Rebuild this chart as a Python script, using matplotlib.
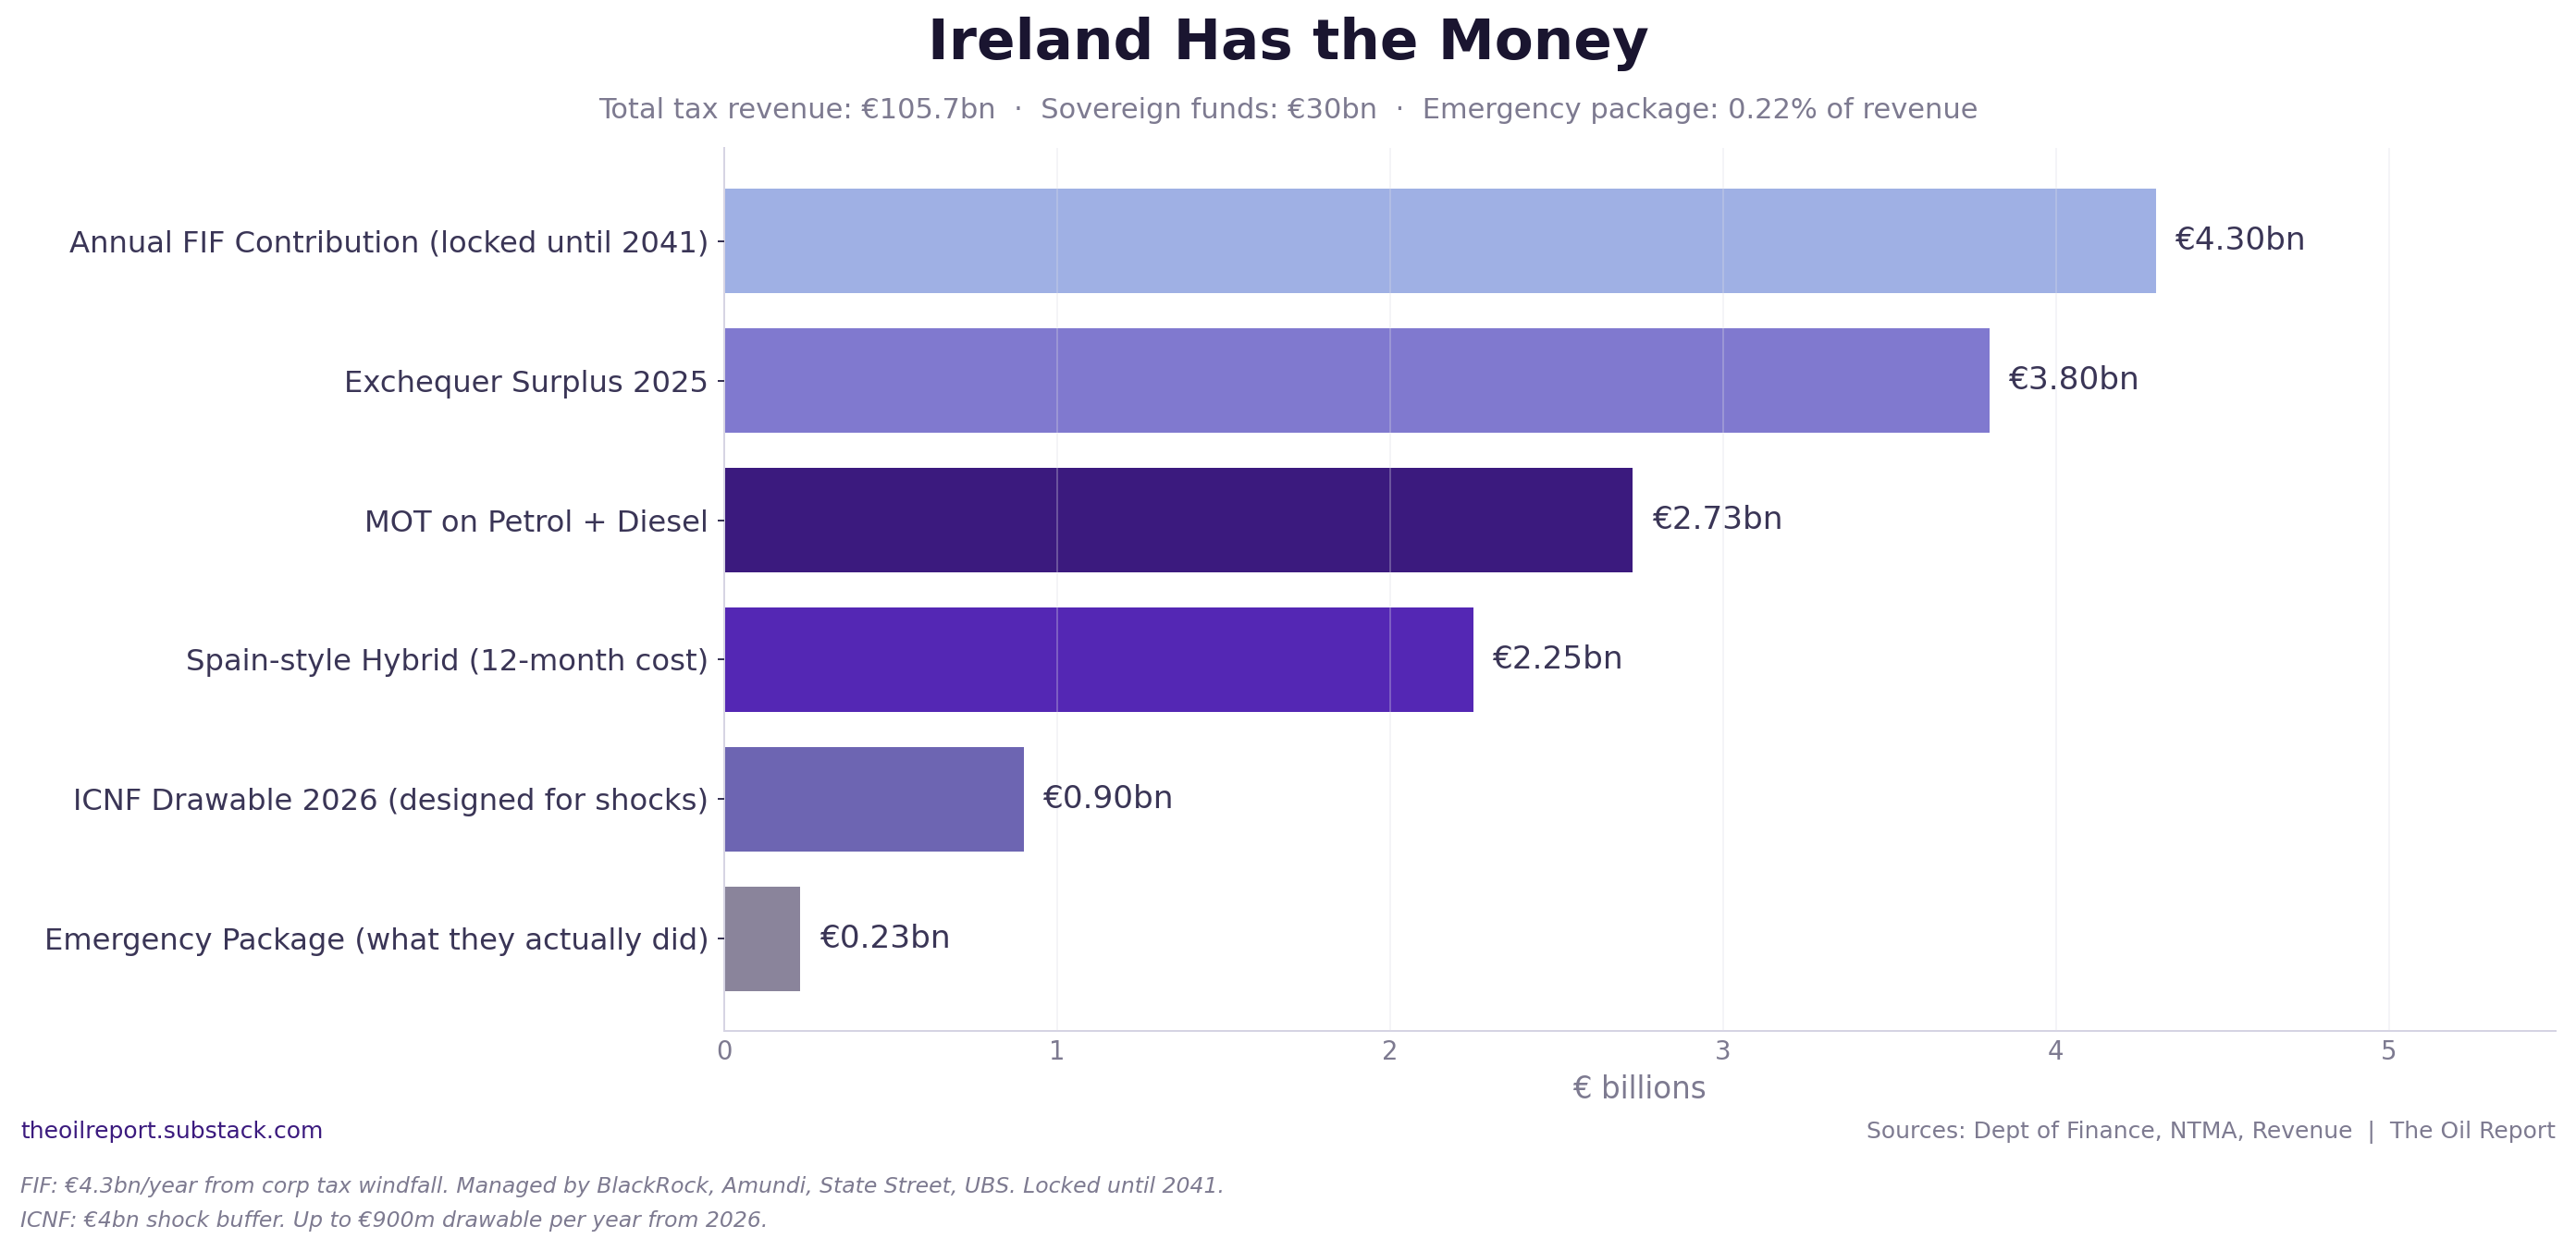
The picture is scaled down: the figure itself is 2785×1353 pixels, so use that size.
import matplotlib
matplotlib.use("Agg")
import matplotlib.pyplot as plt

categories = ["Annual FIF Contribution (locked until 2041)", "Exchequer Surplus 2025",
              "MOT on Petrol + Diesel", "Spain-style Hybrid (12-month cost)",
              "ICNF Drawable 2026 (designed for shocks)", "Emergency Package (what they actually did)"]
values = [4.30, 3.80, 2.73, 2.25, 0.90, 0.23]
colors = ["#9fb0e4", "#8079cf", "#3b1a7e", "#5427b4", "#6d65b2", "#8a849b"]

fig = plt.figure(figsize=(2785/180, 1353/180), dpi=180)
ax = fig.add_axes([0.281, 0.176, 0.711, 0.706])
y = list(range(len(categories)))[::-1]
ax.barh(y, values, color=colors, height=0.75, zorder=1)
for yi, v in zip(y, values):
    ax.text(v + 0.06, yi, f"€{v:.2f}bn", va="center", ha="left", fontsize=13.7, color="#3a3556")
ax.set_yticks(y)
ax.set_yticklabels(categories, fontsize=12.9, color="#3a3556")
ax.set_xlim(0, 5.5)
ax.set_ylim(-0.66, 5.67)
ax.set_xticks([0, 1, 2, 3, 4, 5])
ax.tick_params(axis="x", labelsize=11, colors="#7d7a90", length=0)
ax.tick_params(axis="y", colors="#3a3556", length=3)
ax.xaxis.grid(True, color="#dcdce6", alpha=0.3, linewidth=0.8, zorder=2)
ax.set_axisbelow(False)
for s in ["top", "right"]:
    ax.spines[s].set_visible(False)
for s in ["left", "bottom"]:
    ax.spines[s].set_color("#d5d3e3")
ax.set_xlabel("€ billions", fontsize=13, color="#7d7a90")

fig.text(0.5, 0.965, "Ireland Has the Money", ha="center", va="center", fontsize=24.5, fontweight="bold", color="#1a1530")
fig.text(0.5, 0.912, "Total tax revenue: €105.7bn  ·  Sovereign funds: €30bn  ·  Emergency package: 0.22% of revenue",
         ha="center", va="center", fontsize=12.2, color="#7d7a90")
fig.text(0.008, 0.095, "theoilreport.substack.com", fontsize=10, color="#3b1a7e", va="center")
fig.text(0.992, 0.095, "Sources: Dept of Finance, NTMA, Revenue  |  The Oil Report", fontsize=10, color="#7d7a90", va="center", ha="right")
fig.text(0.008, 0.051, "FIF: €4.3bn/year from corp tax windfall. Managed by BlackRock, Amundi, State Street, UBS. Locked until 2041.",
         fontsize=9.4, color="#7d7a90", style="italic", va="center")
fig.text(0.008, 0.024, "ICNF: €4bn shock buffer. Up to €900m drawable per year from 2026.",
         fontsize=9.4, color="#7d7a90", style="italic", va="center")
fig.savefig("out.png", dpi=180)
